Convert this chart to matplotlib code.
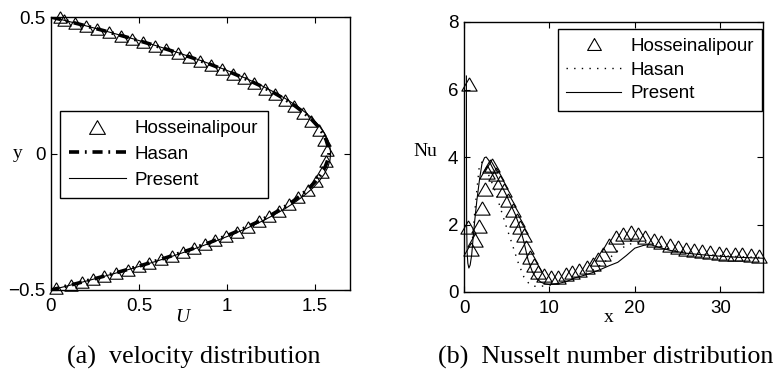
import matplotlib
matplotlib.use("Agg")
import matplotlib.pyplot as plt

plt.rcParams['font.family'] = ['Liberation Sans', 'DejaVu Sans']

# ---------------- (a) velocity profile ----------------
hoss_u_y = [0.500, 0.489, 0.478, 0.467, 0.456, 0.444, 0.432, 0.420, 0.408, 0.395,
            0.382, 0.368, 0.354, 0.339, 0.324, 0.308, 0.292, 0.275, 0.257, 0.238,
            0.218, 0.196, 0.173, 0.147, 0.119, 0.087, 0.051, 0.012,
            -0.028, -0.066, -0.101, -0.132, -0.161, -0.186, -0.209, -0.230, -0.249,
            -0.268, -0.286, -0.302, -0.318, -0.333, -0.347, -0.361, -0.375, -0.388,
            -0.401, -0.413, -0.425, -0.437, -0.449, -0.460, -0.471, -0.482, -0.492]
hoss_u = [0.050, 0.075, 0.135, 0.200, 0.264, 0.332, 0.398, 0.462, 0.525, 0.590,
          0.654, 0.720, 0.783, 0.848, 0.911, 0.974, 1.034, 1.095, 1.155, 1.214,
          1.272, 1.329, 1.382, 1.434, 1.481, 1.522, 1.554, 1.569,
          1.565, 1.543, 1.506, 1.461, 1.407, 1.353, 1.296, 1.238, 1.181,
          1.119, 1.056, 0.997, 0.935, 0.874, 0.814, 0.752, 0.687, 0.625,
          0.560, 0.499, 0.436, 0.371, 0.304, 0.241, 0.177, 0.111, 0.030]

prof_y = [0.5, 0.475, 0.45, 0.425, 0.4, 0.375, 0.35, 0.325, 0.3, 0.275, 0.25,
          0.225, 0.2, 0.175, 0.15, 0.125, 0.1, 0.075, 0.05, 0.025, 0.0,
          -0.025, -0.05, -0.075, -0.1, -0.125, -0.15, -0.175, -0.2, -0.225, -0.25,
          -0.275, -0.3, -0.325, -0.35, -0.375, -0.4, -0.425, -0.45, -0.475, -0.5]
hasan_u = [0.0, 0.154, 0.300, 0.438, 0.569, 0.691, 0.806, 0.912, 1.011, 1.102, 1.185,
           1.260, 1.327, 1.386, 1.438, 1.481, 1.517, 1.545, 1.564, 1.576, 1.580,
           1.573, 1.558, 1.537, 1.507, 1.470, 1.427, 1.376, 1.318, 1.252, 1.177,
           1.095, 1.004, 0.906, 0.800, 0.686, 0.565, 0.435, 0.298, 0.153, 0.0]
present_u = [0.0, 0.155, 0.302, 0.441, 0.572, 0.696, 0.811, 0.918, 1.018, 1.109, 1.193,
             1.268, 1.336, 1.395, 1.447, 1.491, 1.526, 1.554, 1.574, 1.586, 1.590,
             1.586, 1.574, 1.554, 1.526, 1.491, 1.447, 1.395, 1.336, 1.268, 1.193,
             1.109, 1.018, 0.918, 0.811, 0.696, 0.572, 0.441, 0.302, 0.155, 0.0]

u_ticks = [0, 0.5, 1, 1.5]
u_ticklabels = ['0', '0.5', '1', '1.5']
y_ticks = [-0.5, 0, 0.5]
y_ticklabels = ['\u22120.5', '0', '0.5']

# ---------------- (b) Nusselt number ----------------
hoss_x = [0.5, 0.6, 0.8, 1.3, 1.8, 2.1, 2.4, 2.7, 3.0, 3.3, 3.7, 4.2, 4.7, 5.2, 5.7,
          6.2, 6.6, 7.0, 7.3, 7.7, 8.2, 8.7, 9.4, 10.2, 11.0, 11.9, 12.7, 13.5,
          14.4, 15.1, 15.7, 16.3, 17.0, 17.8, 18.6, 19.5, 20.4, 21.2, 22.2, 23.1,
          24.1, 25.0, 26.0, 26.9, 27.9, 28.8, 29.8, 30.7, 31.7, 32.6, 33.6, 34.5]
hoss_nu = [1.93, 6.15, 1.27, 1.54, 1.95, 2.48, 3.06, 3.55, 3.72, 3.75, 3.50, 3.26,
           3.01, 2.72, 2.42, 2.12, 1.93, 1.68, 1.33, 1.04, 0.79, 0.59, 0.49, 0.44,
           0.44, 0.52, 0.59, 0.66, 0.74, 0.84, 0.99, 1.14, 1.38, 1.63, 1.73, 1.78,
           1.73, 1.63, 1.55, 1.48, 1.38, 1.33, 1.28, 1.25, 1.21, 1.19, 1.16, 1.14,
           1.12, 1.12, 1.11, 1.08]

hasan_x = [1.0, 1.25, 1.5, 1.8, 2.1, 2.5, 3.0, 3.5, 4.0, 4.5, 5.0, 5.6, 6.3, 7.0,
           7.6, 8.3, 9.0, 10, 11, 12, 13, 14, 15, 16, 17, 18, 19, 20, 21, 22, 23,
           24, 26, 28, 30, 32, 35]
hasan_nu = [1.6, 2.34, 3.0, 3.75, 3.85, 3.7, 3.4, 3.1, 2.7, 2.3, 1.9, 1.45, 0.9,
            0.45, 0.25, 0.17, 0.17, 0.2, 0.26, 0.33, 0.42, 0.52, 0.64, 0.8, 1.0,
            1.22, 1.38, 1.47, 1.48, 1.43, 1.34, 1.27, 1.17, 1.12, 1.08, 1.05, 1.02]

present_x = [0.28, 0.29, 0.31, 0.36, 0.45, 0.57, 0.72, 0.9, 1.05, 1.25, 1.5, 1.8,
             2.1, 2.4, 2.6, 2.9, 3.3, 4.0, 5.0, 6.0, 6.5, 7.0, 7.5, 8.0, 8.5, 9.0,
             9.5, 10, 11, 12, 13, 14, 15, 16, 17, 18, 19, 20, 21, 21.5, 22, 23, 24,
             25, 26, 28, 30, 32, 35]
present_nu = [6.4, 4.0, 2.0, 1.2, 0.85, 0.71, 0.8, 1.1, 1.55, 2.1, 2.7, 3.3, 3.8,
              3.98, 4.0, 3.9, 3.7, 3.35, 2.85, 2.3, 1.95, 1.5, 0.95, 0.6, 0.4, 0.29,
              0.24, 0.22, 0.25, 0.31, 0.42, 0.49, 0.57, 0.67, 0.78, 0.88, 1.08, 1.30,
              1.38, 1.40, 1.39, 1.31, 1.24, 1.19, 1.15, 1.10, 1.06, 1.03, 1.0]

x_ticks = [0, 10, 20, 30]
nu_ticks = [0, 2, 4, 6, 8]

labels = ['Hosseinalipour', 'Hasan', 'Present']

# equilateral open triangle marker
tri = [(0, 0.5), (-0.577, -0.5), (0.577, -0.5), (0, 0.5)]

fig = plt.figure(figsize=(7.78, 3.71), dpi=100)
ax1 = fig.add_axes([51 / 778, 1 - 290 / 371, 299 / 778, 273 / 371])
ax2 = fig.add_axes([464 / 778, 1 - 292 / 371, 299 / 778, 270 / 371])

tick_fs = 13.5
for ax in (ax1, ax2):
    ax.tick_params(direction='in', top=True, right=True, length=4, width=0.8,
                   labelsize=tick_fs, pad=5)
    for s in ax.spines.values():
        s.set_linewidth(1.0)

# (a)
h1, = ax1.plot(hoss_u, hoss_u_y, linestyle='none', marker=tri, ms=9.5,
               mfc='none', mec='black', mew=0.8, clip_on=False, zorder=3)
h2, = ax1.plot(hasan_u, prof_y, color='black', lw=2.6,
               linestyle=(0, (2.8, 1.6, 0.5, 1.6)), zorder=2)
h3, = ax1.plot(present_u, prof_y, color='black', lw=0.8, zorder=2)
ax1.set_xlim(0, 1.7)
ax1.set_ylim(-0.5, 0.5)
ax1.set_xticks(u_ticks)
ax1.set_xticklabels(u_ticklabels)
ax1.set_yticks(y_ticks)
ax1.set_yticklabels(y_ticklabels)
ax1.tick_params(axis='y', pad=4)
ax1.tick_params(axis='x', pad=6)
leg1 = ax1.legend([h1, h2, h3], labels, loc='upper left',
                  bbox_to_anchor=(0.03, 0.656), borderaxespad=0,
                  fontsize=tick_fs, fancybox=False, framealpha=1,
                  edgecolor='black', handlelength=3.0, handletextpad=0.5,
                  labelspacing=0.45, borderpad=0.5, markerscale=1.2)
leg1.get_frame().set_linewidth(1.0)

# (b)
g1, = ax2.plot(hoss_x, hoss_nu, linestyle='none', marker=tri, ms=11,
               mfc='none', mec='black', mew=0.8, clip_on=False, zorder=3)
g2, = ax2.plot(hasan_x, hasan_nu, color='black', lw=1.0,
               linestyle=(0, (1, 4.5)), zorder=2)
g3, = ax2.plot(present_x, present_nu, color='black', lw=0.8, zorder=2)
ax2.set_xlim(0, 35)
ax2.set_ylim(0, 8)
ax2.set_xticks(x_ticks)
ax2.set_yticks(nu_ticks)
ax2.tick_params(axis='y', pad=4)
ax2.tick_params(axis='x', pad=6)
leg2 = ax2.legend([g1, g2, g3], labels, loc='upper right',
                  bbox_to_anchor=(0.997, 0.973), borderaxespad=0,
                  fontsize=tick_fs, fancybox=False, framealpha=1,
                  edgecolor='black', handlelength=2.9, handletextpad=0.5,
                  labelspacing=0.35, borderpad=0.45, markerscale=0.9)
leg2.get_frame().set_linewidth(1.0)

# axis labels and captions
serif = ['Liberation Serif', 'DejaVu Serif']
fig.text(18 / 778, 1 - 153 / 371, 'y', family=serif, fontsize=14,
         ha='center', va='center')
fig.text(182 / 778, 1 - 318 / 371, 'U', family=serif, style='italic',
         fontsize=14, ha='center', va='center')
fig.text(425 / 778, 1 - 152 / 371, 'Nu', family=serif, fontsize=14,
         ha='center', va='center')
fig.text(609 / 778, 1 - 318 / 371, 'x', family=serif, fontsize=14,
         ha='center', va='center')

fig.text(194 / 778, 1 - 364 / 371, '(a)  velocity distribution', family=serif,
         fontsize=18.8, ha='center', va='baseline')
fig.text(606 / 778, 1 - 364 / 371, '(b)  Nusselt number distribution',
         family=serif, fontsize=18.8, ha='center', va='baseline')

fig.savefig('out.png', dpi=100)
